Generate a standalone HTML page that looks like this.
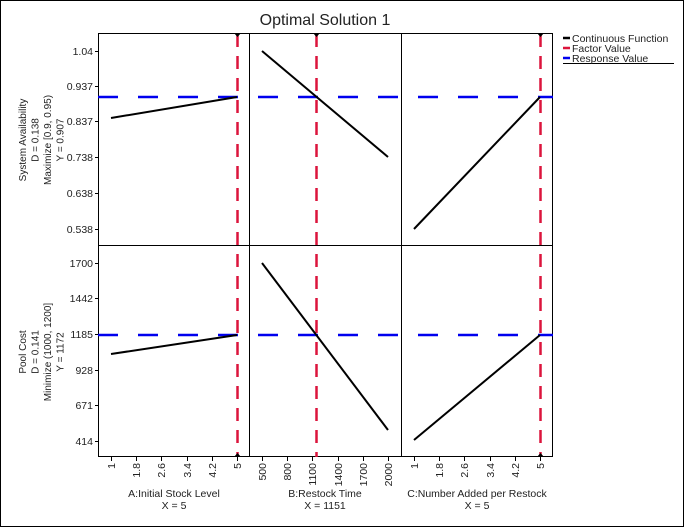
<!DOCTYPE html>
<html><head><style>body{margin:0;background:#fff}svg{display:block}text{font-family:"Liberation Sans",sans-serif;fill:#222}</style></head><body>
<svg width="684" height="527" xmlns="http://www.w3.org/2000/svg">
<rect x="0.5" y="0.5" width="683" height="526" fill="#fff" stroke="#000"/>
<text x="325" y="25" font-size="16" text-anchor="middle" fill="#000">Optimal Solution 1</text>
<g stroke="#000" stroke-width="1" fill="none">
<rect x="98.5" y="33.5" width="454" height="423"/>
<line x1="249.5" y1="33" x2="249.5" y2="457"/>
<line x1="401.5" y1="33" x2="401.5" y2="457"/>
<line x1="98" y1="245.5" x2="553" y2="245.5"/>
</g>
<g stroke="#000"><path d="M95 51.5h3M95 86.5h3M95 121.5h3M95 157.5h3M95 193.5h3M95 229.5h3M95 263.5h3M95 298.5h3M95 334.5h3M95 370.5h3M95 405.5h3M95 441.5h3"/>
<path d="M111.5 457v4M136.5 457v4M161.5 457v4M187.5 457v4M212.5 457v4M237.5 457v4M262.5 457v4M287.5 457v4M312.5 457v4M338.5 457v4M363.5 457v4M388.5 457v4M414.5 457v4M439.5 457v4M464.5 457v4M490.5 457v4M515.5 457v4M540.5 457v4"/></g>
<g font-size="10.5" text-anchor="end">
<text x="93" y="55">1.04</text><text x="93" y="90">0.937</text><text x="93" y="125">0.837</text><text x="93" y="161">0.738</text><text x="93" y="197">0.638</text><text x="93" y="233">0.538</text>
<text x="93" y="267">1700</text><text x="93" y="302">1442</text><text x="93" y="338">1185</text><text x="93" y="374">928</text><text x="93" y="409">671</text><text x="93" y="445">414</text>
</g>
<g font-size="10.5" text-anchor="end">
<text transform="translate(115,463) rotate(-90)">1</text>
<text transform="translate(140,463) rotate(-90)">1.8</text>
<text transform="translate(165,463) rotate(-90)">2.6</text>
<text transform="translate(191,463) rotate(-90)">3.4</text>
<text transform="translate(216,463) rotate(-90)">4.2</text>
<text transform="translate(241,463) rotate(-90)">5</text>
<text transform="translate(266,463) rotate(-90)">500</text>
<text transform="translate(291,463) rotate(-90)">800</text>
<text transform="translate(316,463) rotate(-90)">1100</text>
<text transform="translate(342,463) rotate(-90)">1400</text>
<text transform="translate(367,463) rotate(-90)">1700</text>
<text transform="translate(392,463) rotate(-90)">2000</text>
<text transform="translate(418,463) rotate(-90)">1</text>
<text transform="translate(443,463) rotate(-90)">1.8</text>
<text transform="translate(468,463) rotate(-90)">2.6</text>
<text transform="translate(494,463) rotate(-90)">3.4</text>
<text transform="translate(519,463) rotate(-90)">4.2</text>
<text transform="translate(544,463) rotate(-90)">5</text>
</g>
<g font-size="10.5" text-anchor="middle">
<text x="174" y="497">A:Initial Stock Level</text><text x="174" y="509">X = 5</text>
<text x="325" y="497">B:Restock Time</text><text x="325" y="509">X = 1151</text>
<text x="477" y="497">C:Number Added per Restock</text><text x="477" y="509">X = 5</text>
</g>
<g font-size="10" text-anchor="middle">
<g transform="translate(0,140) rotate(-90)">
<text x="0" y="26">System Availability</text><text x="0" y="38.5">D = 0.138</text><text x="0" y="51">Maximize [0.9, 0.95)</text><text x="0" y="63.5">Y = 0.907</text></g>
<g transform="translate(0,352) rotate(-90)">
<text x="0" y="26">Pool Cost</text><text x="0" y="38.5">D = 0.141</text><text x="0" y="51">Minimize (1000, 1200]</text><text x="0" y="63.5">Y = 1172</text></g>
</g>
<g stroke="#0000ee" stroke-width="2.5" stroke-dasharray="20 20">
<line x1="98" y1="97" x2="553" y2="97"/>
<line x1="98" y1="335" x2="553" y2="335"/>
</g>
<g stroke="#dc143c" stroke-width="2.5" stroke-dasharray="13 9">
<line x1="237.5" y1="34" x2="237.5" y2="457"/>
<line x1="316.5" y1="34" x2="316.5" y2="457"/>
<line x1="540.5" y1="34" x2="540.5" y2="457"/>
</g>
<g fill="#000"><path d="M234 33h7l-3.5 4z"/><path d="M313 33h7l-3.5 4z"/><path d="M537 33h7l-3.5 4z"/>
<path d="M234 457h7l-3.5-4z"/><path d="M537 457h7l-3.5-4z"/></g>
<g stroke="#000" stroke-width="2" fill="none">
<line x1="111" y1="118" x2="237" y2="97"/>
<line x1="262" y1="51" x2="388" y2="157"/>
<line x1="414" y1="229" x2="540" y2="97"/>
<line x1="111" y1="354" x2="237" y2="335"/>
<line x1="262" y1="263" x2="388" y2="430"/>
<line x1="414" y1="440" x2="540" y2="335"/>
</g>
<g stroke-width="2.5"><line x1="563" y1="38" x2="570" y2="38" stroke="#000"/><line x1="563" y1="48" x2="570" y2="48" stroke="#dc143c"/><line x1="563" y1="58" x2="570" y2="58" stroke="#0000ee"/></g>
<line x1="563" y1="63.5" x2="674" y2="63.5" stroke="#000"/>
<g font-size="10.5"><text x="572" y="42">Continuous Function</text><text x="572" y="52">Factor Value</text><text x="572" y="62">Response Value</text></g>
</svg>
</body></html>
